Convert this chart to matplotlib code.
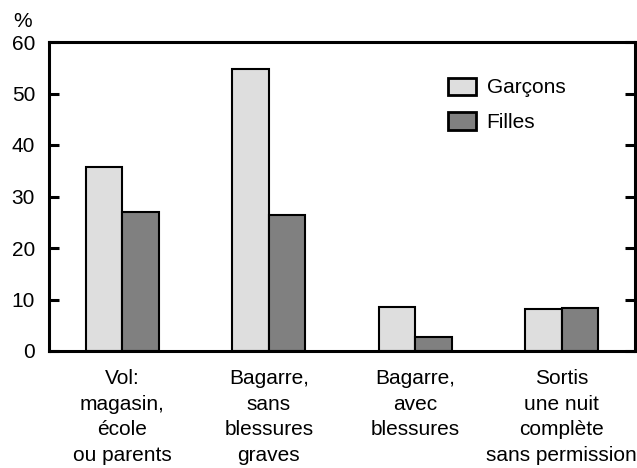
import matplotlib
matplotlib.use("Agg")
import matplotlib.pyplot as plt
import numpy as np

categories = ["Vol:\nmagasin,\nécole\nou parents",
              "Bagarre,\nsans\nblessures\ngraves",
              "Bagarre,\navec\nblessures",
              "Sortis\nune nuit\ncomplète\nsans permission"]
garcons = [35.8, 54.7, 8.5, 8.2]
filles = [26.9, 26.5, 2.8, 8.4]
yticks = [0, 10, 20, 30, 40, 50, 60]

plt.rcParams['font.family'] = ['Liberation Sans', 'DejaVu Sans']
fs = 15

fig = plt.figure(figsize=(6.37, 4.68), dpi=100)
ax = fig.add_axes([49/637, 117/468, 586/637, 309/468])

x = np.arange(len(categories))
w = 0.25
ax.bar(x - w/2, garcons, w, color='#dedede', edgecolor='black', linewidth=1.5, label='Garçons')
ax.bar(x + w/2, filles, w, color='#808080', edgecolor='black', linewidth=1.5, label='Filles')

ax.set_xlim(-0.5, 3.5)
ax.set_ylim(0, 60)
ax.set_yticks(yticks)
ax.set_yticklabels([str(v) for v in yticks], fontsize=fs)
ax.set_xticks(x)
ax.set_xticklabels(categories, fontsize=fs, linespacing=1.44)
ax.tick_params(axis='x', length=0, pad=13)
ax.tick_params(axis='y', direction='in', length=7, width=2.2, right=True, pad=10)
for s in ax.spines.values():
    s.set_linewidth(2.2)

ax.text(13/637, 1 - 27/468, '%', transform=fig.transFigure, fontsize=fs, ha='left', va='baseline')

leg = ax.legend(loc='upper left', bbox_to_anchor=(0.681, 0.885), frameon=False,
                fontsize=fs, handlelength=1.35, handleheight=0.92, handletextpad=0.5,
                labelspacing=0.72, borderpad=0, borderaxespad=0)
for h in leg.legend_handles:
    h.set_linewidth(2)

fig.savefig('out.png', dpi=100)
